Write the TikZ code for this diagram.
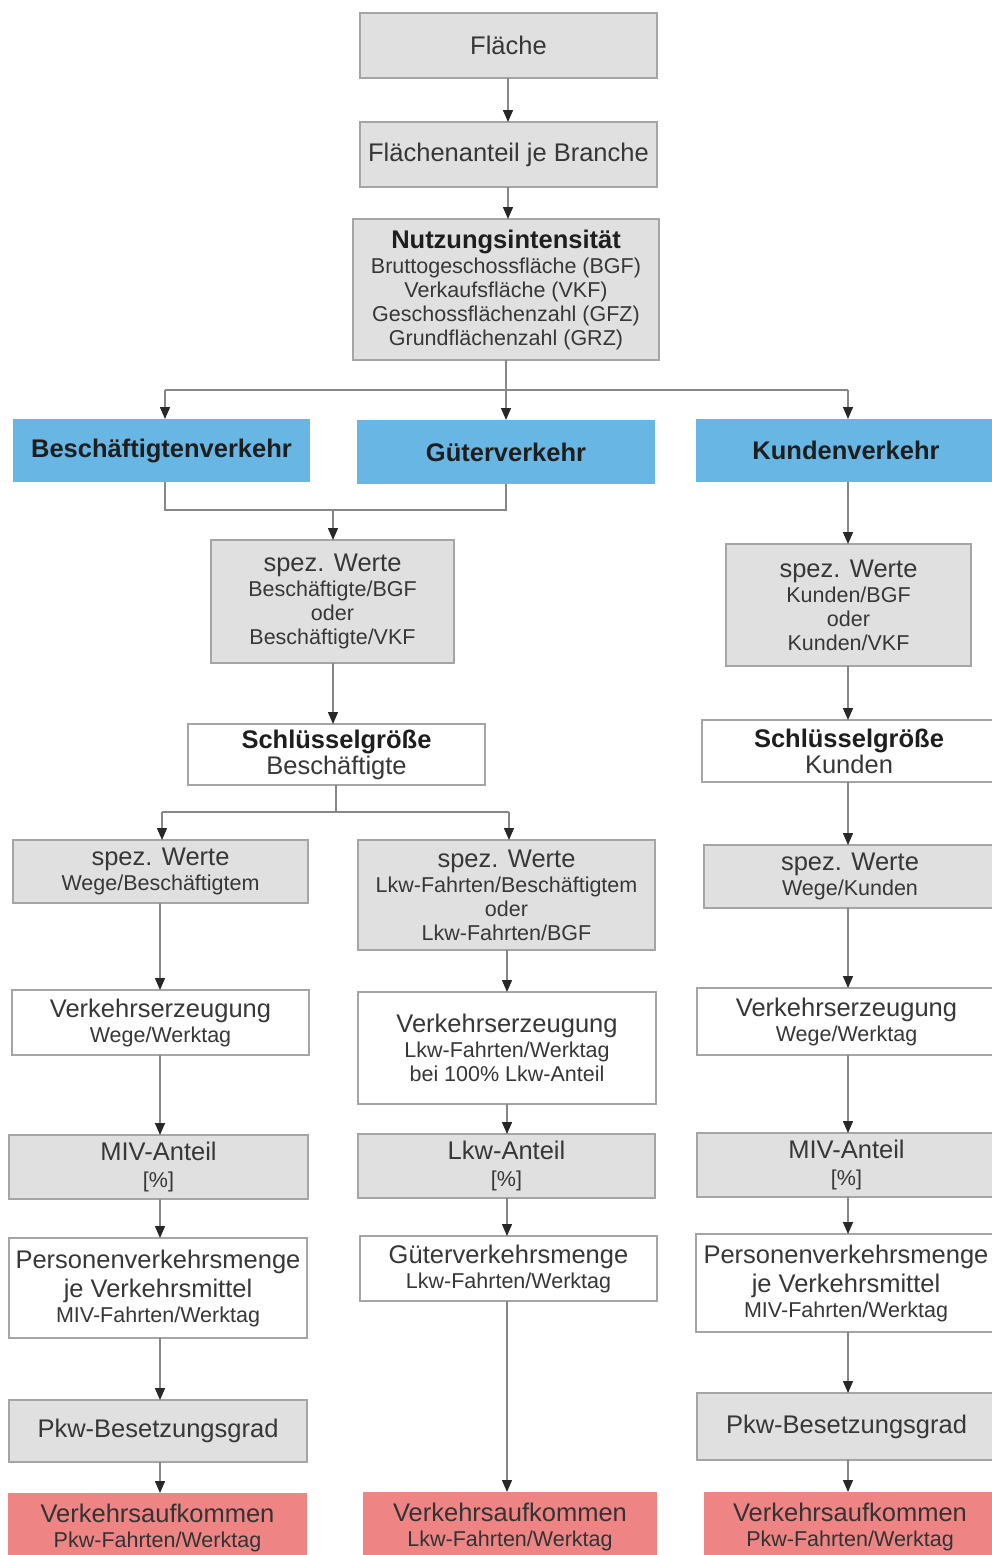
\documentclass[tikz,border=0pt]{standalone}
\usepackage{fontspec}
\setmainfont{Liberation Sans}
\usetikzlibrary{arrows.meta}
\definecolor{boxgray}{RGB}{224,224,224}
\definecolor{edgegray}{RGB}{165,165,165}
\definecolor{boxblue}{RGB}{104,182,228}
\definecolor{boxred}{RGB}{238,132,132}
\definecolor{txtcol}{RGB}{55,55,55}
\definecolor{hdcol}{RGB}{30,30,30}
\definecolor{linecol}{RGB}{135,135,135}
\definecolor{tipcol}{RGB}{40,40,40}
\newcommand\sm{\fontsize{21.5}{24}\selectfont}
\newcommand\hd[1]{\textcolor{hdcol}{\bfseries #1}}
\newcommand\placebox[7]{\node[#1, minimum width={#4-#3}, minimum height={#6-#5}] (#2) at ({(#3+#4)/2},{-(#5+#6)/2}) {#7};}
\tikzset{
  base/.style={rectangle, inner sep=0pt, outer sep=0pt, align=center, text=txtcol, font=\fontsize{25.5}{29}\selectfont},
  gbox/.style={base, fill=boxgray, draw=edgegray, line width=1.4pt},
  wbox/.style={base, fill=white, draw=edgegray, line width=1.4pt},
  bbox/.style={base, fill=boxblue, text=hdcol, font=\fontsize{25.5}{29}\selectfont\bfseries},
  rbox/.style={base, fill=boxred, text=black!80},
  conn/.style={draw=linecol, line width=1.4pt},
  arr/.style={conn, -{Triangle[length=12pt,width=10pt,color=tipcol]}}
}
\begin{document}
\begin{tikzpicture}[x=1pt,y=1pt]
\useasboundingbox (0,0) rectangle (992,-1555);
% top chain
\placebox{gbox}{fl}{360}{657}{13}{78}{Fläche}
\placebox{gbox}{fa}{360}{657}{122}{187}{Flächenanteil je Branche}
\placebox{gbox}{nu}{353}{659}{219}{360}{\hd{Nutzungsintensität}\\[-4pt]\sm Bruttogeschossfläche (BGF)\\[-5pt]\sm Verkaufsfläche (VKF)\\[-5pt]\sm Geschossflächenzahl (GFZ)\\[-5pt]\sm Grundflächenzahl (GRZ)}
% blue
\placebox{bbox}{bv}{13}{310}{419}{482}{Beschäftigtenverkehr}
\placebox{bbox}{gv}{357}{655}{420}{484}{Güterverkehr}
\placebox{bbox}{kv}{696}{996}{419}{482}{Kundenverkehr}
% second level
\placebox{gbox}{swa}{211}{454}{540}{663}{spez. Werte\\[-4pt]\sm Beschäftigte/BGF\\[-5pt]\sm oder\\[-5pt]\sm Beschäftigte/VKF}
\placebox{gbox}{swb}{726}{971}{544}{666}{spez. Werte\\[-4pt]\sm Kunden/BGF\\[-5pt]\sm oder\\[-5pt]\sm Kunden/VKF}
\placebox{wbox}{sga}{188}{485}{724}{785}{\hd{Schlüsselgröße}\\[-3pt]Beschäftigte}
\placebox{wbox}{sgb}{702}{996}{720}{782}{\hd{Schlüsselgröße}\\[-3pt]Kunden}
% third level
\placebox{gbox}{spa}{13}{308}{840}{903}{spez. Werte\\[-4pt]\sm Wege/Beschäftigtem}
\placebox{gbox}{spb}{358}{655}{840}{950}{spez. Werte\\[-4pt]\sm Lkw-Fahrten/Beschäftigtem\\[-5pt]\sm oder\\[-5pt]\sm Lkw-Fahrten/BGF}
\placebox{gbox}{spc}{704}{996}{845}{908}{spez. Werte\\[-4pt]\sm Wege/Kunden}
\placebox{wbox}{vea}{12}{309}{990}{1055}{Verkehrserzeugung\\[-4pt]\sm Wege/Werktag}
\placebox{wbox}{veb}{358}{656}{992}{1104}{Verkehrserzeugung\\[-4pt]\sm Lkw-Fahrten/Werktag\\[-5pt]\sm bei 100\% Lkw-Anteil}
\placebox{wbox}{vec}{697}{996}{988}{1055}{Verkehrserzeugung\\[-4pt]\sm Wege/Werktag}
\placebox{gbox}{mia}{9}{308}{1135}{1199}{MIV-Anteil\\[-2pt]\sm [\%]}
\placebox{gbox}{lab}{358}{655}{1134}{1198}{Lkw-Anteil\\[-2pt]\sm [\%]}
\placebox{gbox}{mic}{697}{996}{1133}{1197}{MIV-Anteil\\[-2pt]\sm [\%]}
\placebox{wbox}{pva}{9}{307}{1238}{1338}{Personenverkehrsmenge\\je Verkehrsmittel\\[-4pt]\sm MIV-Fahrten/Werktag}
\placebox{wbox}{gmb}{360}{657}{1236}{1301}{Güterverkehrsmenge\\[-4pt]\sm Lkw-Fahrten/Werktag}
\placebox{wbox}{pvc}{696}{996}{1234}{1332}{Personenverkehrsmenge\\je Verkehrsmittel\\[-4pt]\sm MIV-Fahrten/Werktag}
\placebox{gbox}{pba}{9}{307}{1400}{1462}{Pkw-Besetzungsgrad}
\placebox{gbox}{pbc}{697}{996}{1393}{1460}{Pkw-Besetzungsgrad}
\placebox{rbox}{vaa}{8}{307}{1493}{1562}{Verkehrsaufkommen\\[-4pt]\sm Pkw-Fahrten/Werktag}
\placebox{rbox}{vab}{363}{657}{1492}{1562}{Verkehrsaufkommen\\[-4pt]\sm Lkw-Fahrten/Werktag}
\placebox{rbox}{vac}{704}{996}{1492}{1562}{Verkehrsaufkommen\\[-4pt]\sm Pkw-Fahrten/Werktag}
% column coordinates
\coordinate (cl) at (160,0);
\coordinate (cm) at (507,0);
\coordinate (cr) at (848,0);
\coordinate (ctop) at (508,0);
% top connectors
\draw[arr] (ctop |- fl.south) -- (ctop |- fa.north);
\draw[arr] (ctop |- fa.south) -- (ctop |- nu.north);
\coordinate (ja) at (506,-390);
\coordinate (jl) at (165,-390);
\coordinate (jr) at (848,-390);
\draw[conn] (ja |- nu.south) -- (ja);
\draw[conn] (jl) -- (jr);
\draw[arr] (jl) -- (jl |- bv.north);
\draw[arr] (ja) -- (ja |- gv.north);
\draw[arr] (jr) -- (jr |- kv.north);
% merge of Beschäftigten- and Güterverkehr
\coordinate (ka) at (165,-510);
\coordinate (kb) at (506,-510);
\coordinate (km) at (333,-510);
\draw[conn] (ka |- bv.south) -- (ka) -- (kb) -- (kb |- gv.south);
\draw[arr] (km) -- (km |- swa.north);
\draw[arr] (km |- swa.south) -- (km |- sga.north);
% right column upper
\draw[arr] (cr |- kv.south) -- (cr |- swb.north);
\draw[arr] (cr |- swb.south) -- (cr |- sgb.north);
\draw[arr] (cr |- sgb.south) -- (cr |- spc.north);
% split after Schlüsselgröße Beschäftigte
\coordinate (ma) at (336,-812);
\coordinate (ml) at (162,-812);
\coordinate (mr) at (509,-812);
\draw[conn] (ma |- sga.south) -- (ma);
\draw[conn] (ml) -- (mr);
\draw[arr] (ml) -- (ml |- spa.north);
\draw[arr] (mr) -- (mr |- spb.north);
% left column
\draw[arr] (cl |- spa.south) -- (cl |- vea.north);
\draw[arr] (cl |- vea.south) -- (cl |- mia.north);
\draw[arr] (cl |- mia.south) -- (cl |- pva.north);
\draw[arr] (cl |- pva.south) -- (cl |- pba.north);
\draw[arr] (cl |- pba.south) -- (cl |- vaa.north);
% middle column
\draw[arr] (cm |- spb.south) -- (cm |- veb.north);
\draw[arr] (cm |- veb.south) -- (cm |- lab.north);
\draw[arr] (cm |- lab.south) -- (cm |- gmb.north);
\draw[arr] (cm |- gmb.south) -- (cm |- vab.north);
% right column lower
\draw[arr] (cr |- spc.south) -- (cr |- vec.north);
\draw[arr] (cr |- vec.south) -- (cr |- mic.north);
\draw[arr] (cr |- mic.south) -- (cr |- pvc.north);
\draw[arr] (cr |- pvc.south) -- (cr |- pbc.north);
\draw[arr] (cr |- pbc.south) -- (cr |- vac.north);
\end{tikzpicture}
\end{document}
